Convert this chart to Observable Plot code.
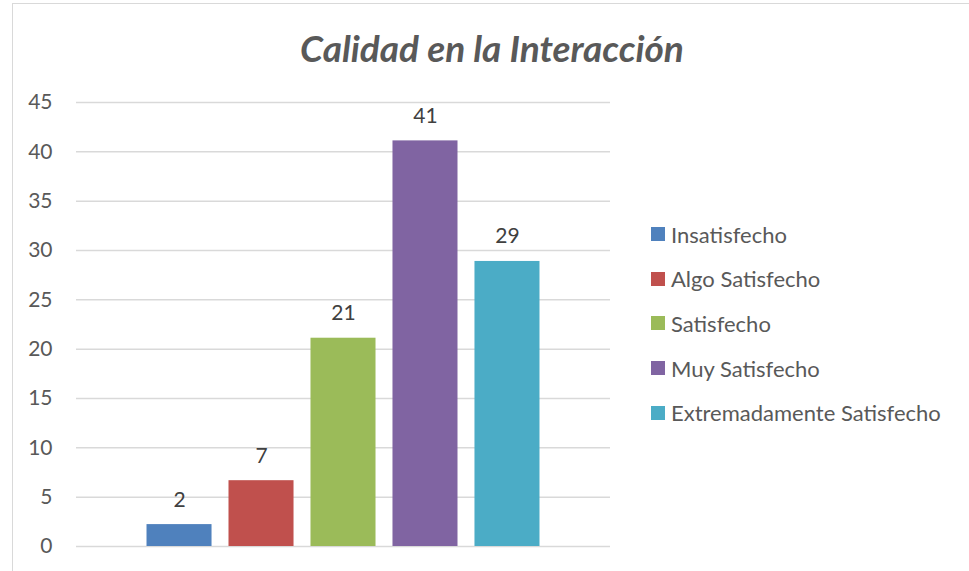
<!DOCTYPE html>
<html>
<head>
<meta charset="utf-8">
<script src="https://cdn.jsdelivr.net/npm/d3@7"></script>
<script src="https://cdn.jsdelivr.net/npm/@observablehq/plot@0.6"></script>
<style>
  html, body { margin: 0; padding: 0; background: #fff; overflow: hidden; }
  body { width: 969px; height: 571px; position: relative; font-family: Lato, "Open Sans", sans-serif; }
  #frame { position: absolute; left: 12px; top: 3px; width: 1200px; height: 800px; border-left: 1.5px solid #d9d9d9; border-top: 1.5px solid #d9d9d9; }
  #title { position: absolute; left: 0; top: 24px; width: 984px; text-align: center; font-size: 37px; line-height: 48px; font-weight: bold; font-style: italic; color: #595959; }
  #chart { position: absolute; left: 0; top: 80px; }
  #legend { position: absolute; left: 651px; top: 212px; }
  .item { display: flex; align-items: center; height: 44.6px; font-size: 22px; color: #595959; }
  .sw { width: 14px; height: 14px; margin-right: 6px; }
</style>
</head>
<body>
<div id="frame"></div>
<div id="title">Calidad en la Interacción</div>
<div id="chart"></div>
<div id="legend"></div>
<script>
const categories = ["Insatisfecho", "Algo Satisfecho", "Satisfecho", "Muy Satisfecho", "Extremadamente Satisfecho"];
const values = [2.22, 6.67, 21.11, 41.11, 28.89];
const labels = ["2", "7", "21", "41", "29"];
const colors = ["#4F81BD", "#C0504D", "#9BBB59", "#8064A2", "#4BACC6"];
const yTicks = [0, 5, 10, 15, 20, 25, 30, 35, 40, 45];

const data = categories.map((c, i) => ({cat: c, value: values[i], label: labels[i]}));

const plot = Plot.plot({
  width: 620,
  height: 491,
  marginLeft: 76,
  marginRight: 10,
  marginTop: 22,
  marginBottom: 25,
  style: {fontFamily: "Lato, 'Open Sans', sans-serif", background: "transparent"},
  x: {type: "band", domain: categories, paddingInner: 0.207, paddingOuter: 0.86, round: false, axis: null},
  y: {domain: [0, 45], ticks: yTicks},
  color: {domain: categories, range: colors},
  marks: [
    Plot.ruleY(yTicks, {stroke: "#d9d9d9", strokeWidth: 1.5}),
    Plot.barY(data, {x: "cat", y: "value", fill: "cat", inset: 0}),
    Plot.text(data, {x: "cat", y: "value", text: "label", lineAnchor: "bottom", dy: -18, fontSize: 21, fill: "#404040"}),
    Plot.axisY({ticks: yTicks, tickSize: 0, tickPadding: 24, fontSize: 21, color: "#595959", label: null})
  ]
});
document.getElementById("chart").appendChild(plot);

const legend = document.getElementById("legend");
categories.forEach((c, i) => {
  const item = document.createElement("div");
  item.className = "item";
  const sw = document.createElement("div");
  sw.className = "sw";
  sw.style.background = colors[i];
  const t = document.createElement("span");
  t.textContent = c;
  item.appendChild(sw);
  item.appendChild(t);
  legend.appendChild(item);
});
</script>
</body>
</html>
